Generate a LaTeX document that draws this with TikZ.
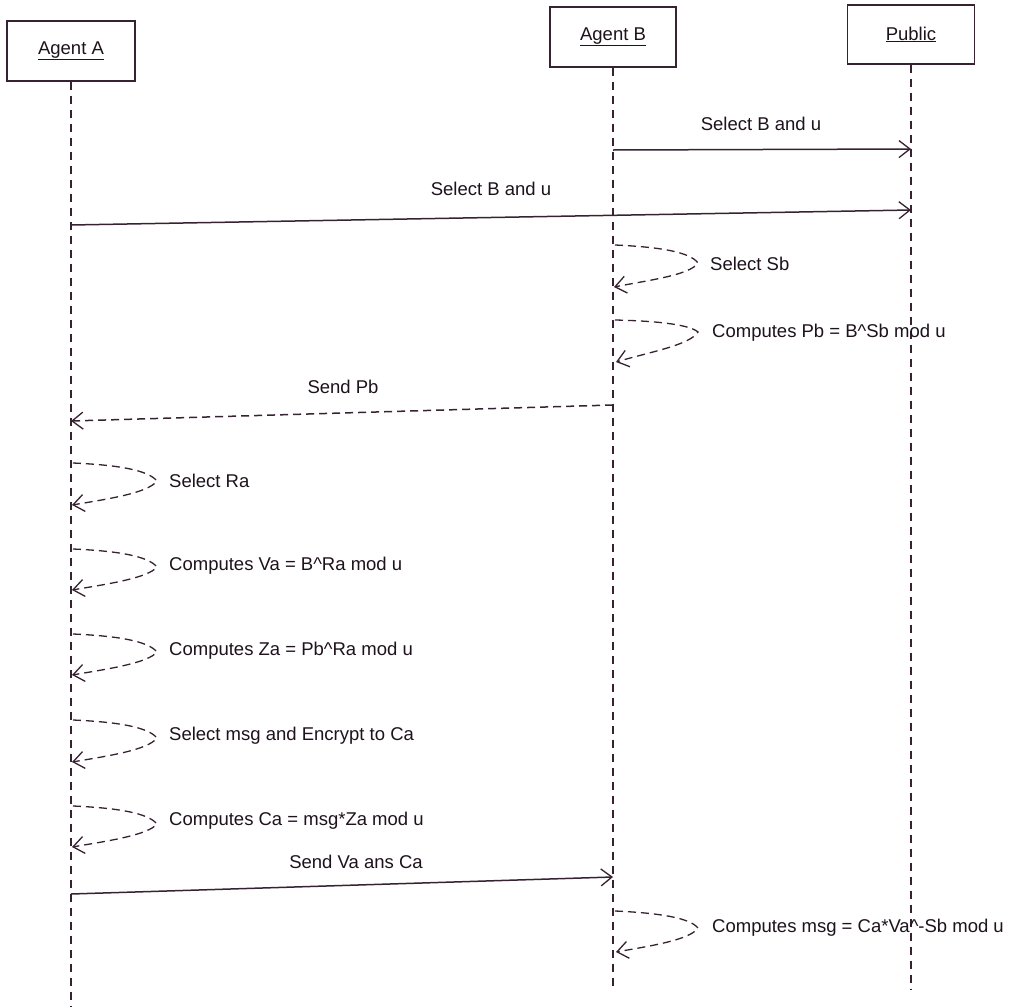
\documentclass[tikz,border=0pt]{standalone}
\usepackage{fontspec}
\setmainfont{Liberation Sans}
\usetikzlibrary{arrows.meta}
\definecolor{ink}{RGB}{55,34,50}
\definecolor{txt}{RGB}{30,18,28}
\begin{document}
\begin{tikzpicture}[x=1pt,y=-1pt,
  every node/.style={font=\fontsize{18.5}{22}\selectfont, text=txt, inner sep=0pt},
  headbox/.style={draw=ink, line width=1.4pt, fill=white, minimum height=60pt},
  lifeline/.style={draw=ink, line width=1.1pt, dash pattern=on 8pt off 6pt},
  msg/.style={draw=ink, line width=1.5pt, -{Straight Barb[length=11pt,width=17pt,line width=1.3pt]}},
  retmsg/.style={msg, dash pattern=on 8pt off 5pt},
  selfmsg/.style={draw=ink, line width=1.3pt, dash pattern=on 8pt off 5pt, -{Straight Barb[length=11pt,width=17pt,line width=1.3pt,sep=0pt]}},
  lbl/.style={anchor=west},
]
\useasboundingbox (0,0) rectangle (1021,1007);
\fill[white] (0,0) rectangle (1021,1007);

% heads
\node[headbox, minimum width=128pt] (A) at (71,51) {\underline{Agent A}};
\node[headbox, minimum width=126pt] (B) at (613,37) {\underline{Agent B}};
\node[headbox, minimum width=127pt, minimum height=59pt] (P) at (911,34.5) {\underline{Public}};

% lifeline ends
\coordinate (Aend) at (71,1007);
\coordinate (Bend) at (613,990);
\coordinate (Pend) at (911,990);
\draw[lifeline] (A.south) -- (Aend);
\draw[lifeline] (B.south) -- (Bend);
\draw[lifeline] (P.south) -- (Pend);

% message 1: B -> Public
\coordinate (m1s) at (613,150);
\coordinate (m1e) at (911,149);
\draw[msg] (m1s) -- (m1e);
\node (l1) at (761,124) {Select B and u};

% message 2: A -> Public
\coordinate (m2s) at (71,225);
\coordinate (m2e) at (911,210);
\draw[msg] (m2s) -- (m2e);
\node (l2) at (491,189) {Select B and u};

% self loops on B
\coordinate (s1a) at (615,245);
\coordinate (s1b) at (614,287);
\draw[selfmsg] (s1a) .. controls (660,247) and (690,252) .. (698,263) .. controls (690,275) and (650,280) .. (s1b);
\node[lbl] (t1) at (710,264) {Select Sb};

\coordinate (s2a) at (615,320);
\coordinate (s2b) at (616,362);
\draw[selfmsg] (s2a) .. controls (660,321) and (690,325) .. (698,332) .. controls (690,345) and (650,352) .. (s2b);
\node[lbl] (t2) at (712,333) {Computes Pb = B\^{}Sb mod u};

% Send Pb: B -> A dashed
\coordinate (m3s) at (613,405);
\coordinate (m3e) at (71,421);
\draw[retmsg] (m3s) -- (m3e);
\node (l3) at (343,387) {Send Pb};

% self loops on A
\coordinate (s3a) at (73,463);
\coordinate (s3b) at (72,505);
\draw[selfmsg] (s3a) .. controls (118,465) and (148,470) .. (157,481) .. controls (148,493) and (108,499) .. (s3b);
\node[lbl] (t3) at (169,481) {Select Ra};

\coordinate (s4a) at (73,549);
\coordinate (s4b) at (72,590);
\draw[selfmsg] (s4a) .. controls (118,551) and (148,556) .. (157,567) .. controls (148,578) and (108,584) .. (s4b);
\node[lbl] (t4) at (169,566) {Computes Va = B\^{}Ra mod u};

\coordinate (s5a) at (73,634);
\coordinate (s5b) at (72,675);
\draw[selfmsg] (s5a) .. controls (118,636) and (148,641) .. (157,652) .. controls (148,663) and (108,669) .. (s5b);
\node[lbl] (t5) at (169,651) {Computes Za = Pb\^{}Ra mod u};

\coordinate (s6a) at (73,720);
\coordinate (s6b) at (72,762);
\draw[selfmsg] (s6a) .. controls (118,722) and (148,727) .. (157,738) .. controls (148,750) and (108,756) .. (s6b);
\node[lbl] (t6) at (169,736) {Select msg and Encrypt to Ca};

\coordinate (s7a) at (73,806);
\coordinate (s7b) at (72,847);
\draw[selfmsg] (s7a) .. controls (118,808) and (148,813) .. (157,824) .. controls (148,835) and (108,841) .. (s7b);
\node[lbl] (t7) at (169,821) {Computes Ca = msg*Za mod u};

% Send Va ans Ca: A -> B
\coordinate (m4s) at (71,894);
\coordinate (m4e) at (613,877);
\draw[msg] (m4s) -- (m4e);
\node (l4) at (356,862) {Send Va ans Ca};

% self loop on B
\coordinate (s8a) at (615,911);
\coordinate (s8b) at (616,952);
\draw[selfmsg] (s8a) .. controls (660,913) and (690,918) .. (698,928) .. controls (690,940) and (650,946) .. (s8b);
\node[lbl] (t8) at (712,928) {Computes msg = Ca*Va\^{}-Sb mod u};
\end{tikzpicture}
\end{document}
